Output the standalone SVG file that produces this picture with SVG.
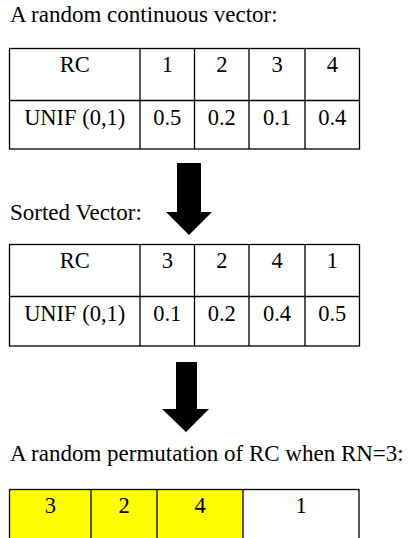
<svg xmlns="http://www.w3.org/2000/svg" width="409" height="538" viewBox="0 0 409 538">
<style>
text{font-family:"Liberation Serif","Times New Roman",serif;fill:#000}
.h{font-size:23px}
.c{font-size:22.5px;text-anchor:middle}
.g{fill:none;stroke:#000;stroke-width:1.3}
.y{fill:#ffff00}
.w{fill:#fff}
.arrow{fill:#000}
</style>
<rect width="409" height="538" fill="#fff"/>
<g id="title1"><text class="h" x="10" y="21.5">A random continuous vector:</text></g>
<g id="table1">
<rect class="g" x="9.5" y="48.5" width="350" height="100.5"/>
<line class="g" x1="9.5" y1="100.5" x2="359.5" y2="100.5"/>
<line class="g" x1="140" y1="48.5" x2="140" y2="149"/>
<line class="g" x1="194.5" y1="48.5" x2="194.5" y2="149"/>
<line class="g" x1="249" y1="48.5" x2="249" y2="149"/>
<line class="g" x1="305" y1="48.5" x2="305" y2="149"/>
<text class="c" x="74.75" y="72">RC</text>
<text class="c" x="167.25" y="72">1</text>
<text class="c" x="221.75" y="72">2</text>
<text class="c" x="277" y="72">3</text>
<text class="c" x="332.25" y="72">4</text>
<text class="c" x="74.75" y="125">UNIF (0,1)</text>
<text class="c" x="167.25" y="125">0.5</text>
<text class="c" x="221.75" y="125">0.2</text>
<text class="c" x="277" y="125">0.1</text>
<text class="c" x="332.25" y="125">0.4</text>
</g>
<g id="title2"><text class="h" x="10" y="220">Sorted Vector:</text></g>
<g id="table2">
<rect class="g" x="9.5" y="244.5" width="350" height="101.5"/>
<line class="g" x1="9.5" y1="296.5" x2="359.5" y2="296.5"/>
<line class="g" x1="140" y1="244.5" x2="140" y2="346"/>
<line class="g" x1="194.5" y1="244.5" x2="194.5" y2="346"/>
<line class="g" x1="249" y1="244.5" x2="249" y2="346"/>
<line class="g" x1="305" y1="244.5" x2="305" y2="346"/>
<text class="c" x="74.75" y="268">RC</text>
<text class="c" x="167.25" y="268">3</text>
<text class="c" x="221.75" y="268">2</text>
<text class="c" x="277" y="268">4</text>
<text class="c" x="332.25" y="268">1</text>
<text class="c" x="74.75" y="321">UNIF (0,1)</text>
<text class="c" x="167.25" y="321">0.1</text>
<text class="c" x="221.75" y="321">0.2</text>
<text class="c" x="277" y="321">0.4</text>
<text class="c" x="332.25" y="321">0.5</text>
</g>
<g id="connectors">
<polygon class="arrow" points="177,163 201,163 201,212 212,212 189,235 166,212 177,212"/>
<polygon class="arrow" points="176,362 197,362 197,409 209,409 186,432 162,409 176,409"/>
</g>
<g id="title3"><text class="h" x="10" y="461">A random permutation of RC when RN=3:</text></g>
<g id="table3">
<rect class="y" x="9.5" y="489.5" width="233.5" height="60"/>
<rect class="w" x="243" y="489.5" width="116" height="60"/>
<rect class="g" x="9.5" y="489.5" width="349.5" height="60"/>
<line class="g" x1="91" y1="489.5" x2="91" y2="549"/>
<line class="g" x1="157" y1="489.5" x2="157" y2="549"/>
<line class="g" x1="243" y1="489.5" x2="243" y2="549"/>
<text class="c" x="50.25" y="513">3</text>
<text class="c" x="124" y="513">2</text>
<text class="c" x="200" y="513">4</text>
<text class="c" x="301" y="513">1</text>
</g>
</svg>
